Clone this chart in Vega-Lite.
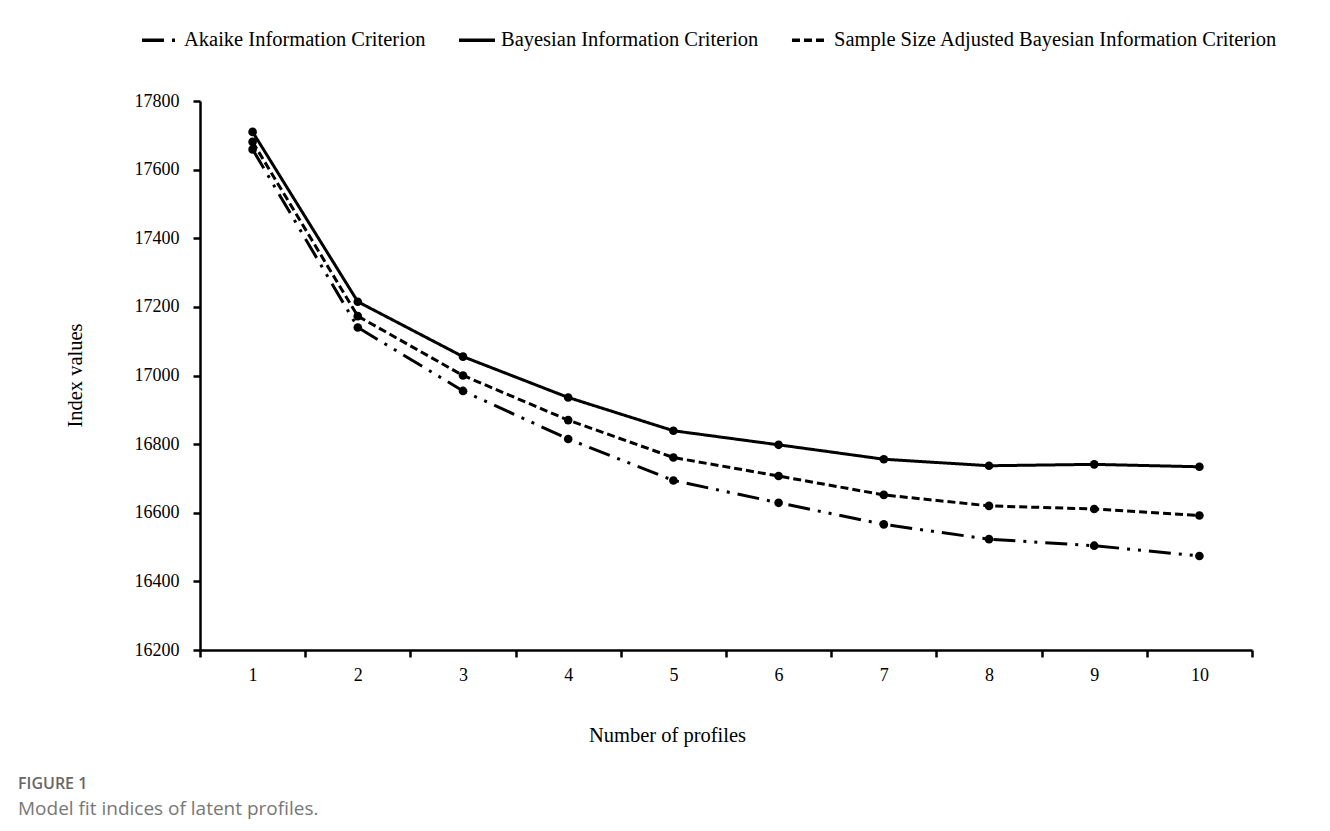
{
  "$schema": "https://vega.github.io/schema/vega-lite/v6.json",
  "autosize": {"type": "none"},
  "width": 1052,
  "height": 549,
  "padding": {"left": 200, "top": 101, "right": 78, "bottom": 181},
  "background": "white",
  "title": {
    "text": "FIGURE 1",
    "subtitle": "Model fit indices of latent profiles.",
    "orient": "bottom",
    "anchor": "start",
    "frame": "group",
    "dx": -182,
    "offset": 30,
    "font": "Open Sans",
    "fontSize": 16,
    "fontWeight": 600,
    "color": "#666666",
    "subtitleFont": "Open Sans",
    "subtitleFontSize": 19,
    "subtitleColor": "#777777",
    "subtitlePadding": 8
  },
  "config": {
    "view": {"stroke": null},
    "font": "Liberation Serif",
    "axis": {
      "domainColor": "black",
      "domainWidth": 2.5,
      "tickColor": "black",
      "tickWidth": 2.5,
      "tickSize": 7,
      "labelFont": "Liberation Serif",
      "labelFontSize": 18,
      "labelColor": "black",
      "titleFont": "Liberation Serif",
      "titleFontSize": 20.5,
      "titleFontWeight": "normal",
      "titleColor": "black",
      "grid": false
    }
  },
  "data": {
    "values": [
      {"profiles": 1, "criterion": "Akaike Information Criterion", "value": 17659},
      {"profiles": 2, "criterion": "Akaike Information Criterion", "value": 17140},
      {"profiles": 3, "criterion": "Akaike Information Criterion", "value": 16955},
      {"profiles": 4, "criterion": "Akaike Information Criterion", "value": 16815},
      {"profiles": 5, "criterion": "Akaike Information Criterion", "value": 16694},
      {"profiles": 6, "criterion": "Akaike Information Criterion", "value": 16629},
      {"profiles": 7, "criterion": "Akaike Information Criterion", "value": 16566},
      {"profiles": 8, "criterion": "Akaike Information Criterion", "value": 16523},
      {"profiles": 9, "criterion": "Akaike Information Criterion", "value": 16504},
      {"profiles": 10, "criterion": "Akaike Information Criterion", "value": 16474},
      {"profiles": 1, "criterion": "Bayesian Information Criterion", "value": 17710},
      {"profiles": 2, "criterion": "Bayesian Information Criterion", "value": 17215},
      {"profiles": 3, "criterion": "Bayesian Information Criterion", "value": 17055},
      {"profiles": 4, "criterion": "Bayesian Information Criterion", "value": 16936},
      {"profiles": 5, "criterion": "Bayesian Information Criterion", "value": 16839},
      {"profiles": 6, "criterion": "Bayesian Information Criterion", "value": 16798},
      {"profiles": 7, "criterion": "Bayesian Information Criterion", "value": 16756},
      {"profiles": 8, "criterion": "Bayesian Information Criterion", "value": 16737},
      {"profiles": 9, "criterion": "Bayesian Information Criterion", "value": 16741},
      {"profiles": 10, "criterion": "Bayesian Information Criterion", "value": 16734},
      {"profiles": 1, "criterion": "Sample Size Adjusted Bayesian Information Criterion", "value": 17681},
      {"profiles": 2, "criterion": "Sample Size Adjusted Bayesian Information Criterion", "value": 17173},
      {"profiles": 3, "criterion": "Sample Size Adjusted Bayesian Information Criterion", "value": 17000},
      {"profiles": 4, "criterion": "Sample Size Adjusted Bayesian Information Criterion", "value": 16870},
      {"profiles": 5, "criterion": "Sample Size Adjusted Bayesian Information Criterion", "value": 16761},
      {"profiles": 6, "criterion": "Sample Size Adjusted Bayesian Information Criterion", "value": 16707},
      {"profiles": 7, "criterion": "Sample Size Adjusted Bayesian Information Criterion", "value": 16652},
      {"profiles": 8, "criterion": "Sample Size Adjusted Bayesian Information Criterion", "value": 16620},
      {"profiles": 9, "criterion": "Sample Size Adjusted Bayesian Information Criterion", "value": 16611},
      {"profiles": 10, "criterion": "Sample Size Adjusted Bayesian Information Criterion", "value": 16592}
    ]
  },
  "encoding": {
    "x": {
      "field": "profiles",
      "type": "ordinal",
      "scale": {"type": "band", "paddingInner": 0, "paddingOuter": 0},
      "axis": {
        "title": "Number of profiles",
        "labelAngle": 0,
        "tickBand": "extent",
        "labelPadding": 9,
        "titleX": 467,
        "titleY": 85,
        "titleAlign": "center",
        "titleBaseline": "middle"
      }
    },
    "y": {
      "field": "value",
      "type": "quantitative",
      "scale": {"domain": [16200, 17800], "nice": false, "zero": false},
      "axis": {
        "title": "Index values",
        "values": [16200, 16400, 16600, 16800, 17000, 17200, 17400, 17600, 17800],
        "format": "d",
        "labelPadding": 14,
        "titleX": -125,
        "titleY": 274,
        "titleAngle": -90,
        "titleAlign": "center",
        "titleBaseline": "middle"
      }
    }
  },
  "layer": [
    {
      "mark": {"type": "line", "color": "black", "strokeWidth": 3},
      "encoding": {
        "strokeDash": {
          "field": "criterion",
          "type": "nominal",
          "scale": {
            "domain": ["Akaike Information Criterion", "Bayesian Information Criterion", "Sample Size Adjusted Bayesian Information Criterion"],
            "range": [[22, 8, 3, 8, 3, 8], [1, 0], [8, 4]]
          },
          "legend": {
            "title": null,
            "orient": "none",
            "direction": "horizontal",
            "legendX": -60,
            "legendY": -81,
            "symbolType": "stroke",
            "symbolSize": 1300,
            "symbolStrokeWidth": 3.5,
            "symbolStrokeColor": "black",
            "labelFont": "Liberation Serif",
            "labelFontSize": 20.5,
            "labelColor": "black",
            "labelLimit": 600,
            "labelOffset": 4,
            "columnPadding": 25
          }
        }
      }
    },
    {
      "mark": {"type": "point", "filled": true, "color": "black", "size": 75, "opacity": 1},
      "encoding": {
        "detail": {"field": "criterion", "type": "nominal"}
      }
    }
  ]
}
